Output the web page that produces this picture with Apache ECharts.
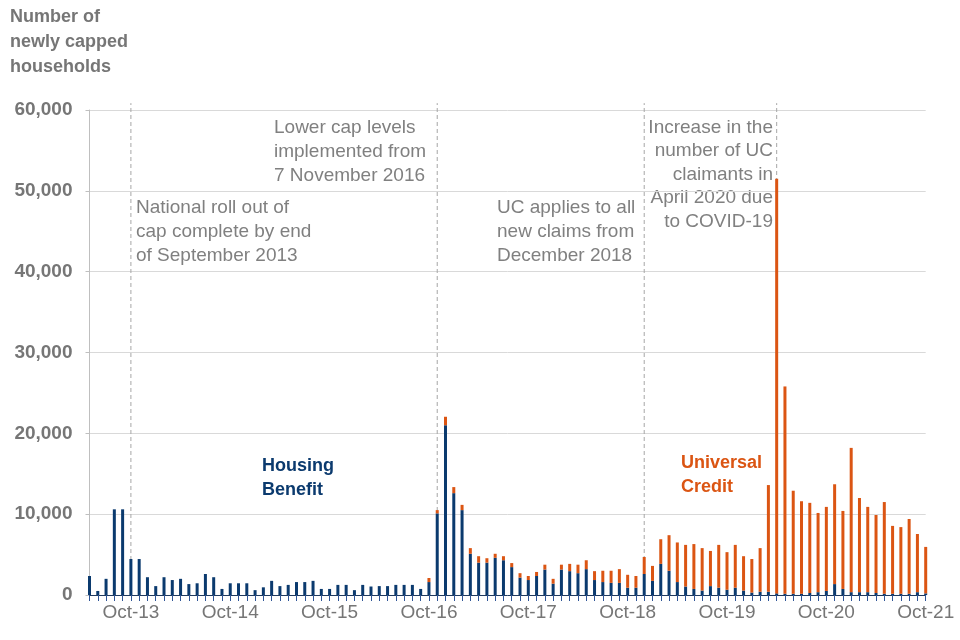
<!DOCTYPE html>
<html>
<head>
<meta charset="utf-8">
<script src="https://cdn.jsdelivr.net/npm/echarts@6/dist/echarts.min.js"></script>
<style>
html,body{margin:0;padding:0;background:#fff;}
#chart{width:960px;height:640px;}
</style>
</head>
<body>
<div id="chart"></div>
<script>
// Months May-13 .. Oct-21
const monthNames = ['Jan','Feb','Mar','Apr','May','Jun','Jul','Aug','Sep','Oct','Nov','Dec'];
const categories = [];
for (let y = 2013, m = 4; categories.length < 102; ) {
  categories.push(monthNames[m] + '-' + String(y).slice(2));
  m++; if (m === 12) { m = 0; y++; }
}

const housingBenefit = [
  2350, 500, 2000, 10600, 10600, 4450, 4450, 2200, 1100, 2200,
  1850, 2000, 1350, 1450, 2600, 2200, 750, 1450, 1450, 1450,
  600, 950, 1750, 1100, 1250, 1600, 1600, 1750, 750, 750,
  1250, 1250, 600, 1250, 1050, 1100, 1100, 1250, 1250, 1250,
  750, 1600, 10100, 21000, 12600, 10500, 5100, 4000, 4000, 4600,
  4300, 3450, 2150, 1850, 2350, 3150, 1400, 3150, 2950, 2700,
  3200, 1850, 1600, 1500, 1500, 900, 900, 2600, 1750, 3850,
  3000, 1600, 1050, 750, 550, 1100, 900, 650, 900, 550,
  300, 400, 400, 200, 150, 150, 150, 250, 350, 500,
  1350, 750, 350, 350, 350, 250, 150, 150, 150, 150,
  350, 200
];

const universalCredit = [
  0, 0, 0, 0, 0, 0, 0, 0, 0, 0,
  0, 0, 0, 0, 0, 0, 0, 0, 0, 0,
  0, 0, 0, 0, 0, 0, 0, 0, 0, 0,
  0, 0, 0, 0, 0, 0, 0, 0, 0, 0,
  0, 500, 400, 1050, 750, 650, 700, 800, 550, 500,
  500, 500, 550, 500, 500, 600, 600, 600, 900, 1050,
  1100, 1100, 1400, 1500, 1700, 1600, 1450, 2100, 1850, 3050,
  4400, 4900, 5150, 5550, 5250, 4350, 5300, 4650, 5300, 4250,
  4150, 5400, 13200, 51300, 25650, 12750, 11450, 11150, 9800, 10400,
  12350, 9650, 17850, 11650, 10550, 9650, 11350, 8400, 8250, 9250,
  7200, 5750
];

const yTicks = [0, 10000, 20000, 30000, 40000, 50000, 60000];
const eventMonths = ['Oct-13', 'Nov-16', 'Dec-18', 'Apr-20'];
const eventLineTop = 60850;

const NAVY = '#0B3A6E';
const ORANGE = '#DB5513';
const GREY = '#767676';
const FONT = "'Liberation Sans', Arial, sans-serif";

const eventSeries = eventMonths.map(function (m) {
  const i = categories.indexOf(m);
  return {
    name: 'event ' + m, type: 'line', data: [[i, 0], [i, eventLineTop]],
    symbol: 'none', silent: true, clip: false, z: 1,
    lineStyle: { color: '#A6A6A6', type: [4, 3], width: 1 }
  };
});

const chart = echarts.init(document.getElementById('chart'));
chart.setOption({
  animation: false,
  backgroundColor: '#ffffff',
  textStyle: { fontFamily: FONT },
  grid: { left: 89.5, right: 34.3, top: 110, bottom: 45 },
  xAxis: {
    type: 'category',
    data: categories,
    boundaryGap: false,
    axisLine: { lineStyle: { color: '#1F3A5F', width: 1 } },
    axisTick: { show: true, interval: 0, length: 6, lineStyle: { color: '#2F5597' } },
    axisLabel: {
      interval: function (i) { return (i - 5) % 12 === 0; },
      color: GREY, fontSize: 19, margin: 8, fontFamily: FONT
    },
    splitLine: { show: false }
  },
  yAxis: {
    type: 'value',
    min: yTicks[0], max: yTicks[yTicks.length - 1], interval: 10000,
    axisLine: { show: true, lineStyle: { color: '#BFBFBF' } },
    axisTick: { show: true, length: 4, lineStyle: { color: '#BFBFBF' } },
    axisLabel: {
      color: GREY, fontSize: 19, fontWeight: 'bold', margin: 17, fontFamily: FONT,
      formatter: function (v) { return v.toLocaleString('en-GB'); }
    },
    splitLine: { lineStyle: { color: '#D9D9D9' } }
  },
  series: [
    {
      name: 'Housing Benefit', type: 'bar', stack: 'total', data: housingBenefit,
      barWidth: 3, clip: false, z: 2, itemStyle: { color: NAVY }
    },
    {
      name: 'Universal Credit', type: 'bar', stack: 'total', data: universalCredit,
      barWidth: 3, clip: false, z: 2, itemStyle: { color: ORANGE }
    }
  ].concat(eventSeries),
  graphic: [
    { type: 'text', left: 10, top: 5, style: { text: 'Number of\nnewly capped\nhouseholds', fill: GREY, font: 'bold 18px ' + FONT, lineHeight: 25 } },
    { type: 'text', x: 136, y: 196, style: { text: 'National roll out of\ncap complete by end\nof September 2013', fill: '#808080', font: '19px ' + FONT, lineHeight: 24, textAlign: 'left', textVerticalAlign: 'top' } },
    { type: 'text', x: 274, y: 116, style: { text: 'Lower cap levels\nimplemented from\n7 November 2016', fill: '#808080', font: '19px ' + FONT, lineHeight: 24, textAlign: 'left', textVerticalAlign: 'top' } },
    { type: 'text', x: 497, y: 196, style: { text: 'UC applies to all\nnew claims from\nDecember 2018', fill: '#808080', font: '19px ' + FONT, lineHeight: 24, textAlign: 'left', textVerticalAlign: 'top' } },
    { type: 'text', x: 773, y: 116, style: { text: 'Increase in the\nnumber of UC\nclaimants in\nApril 2020 due\nto COVID-19', fill: '#808080', font: '19px ' + FONT, lineHeight: 23.5, textAlign: 'right', textVerticalAlign: 'top' } },
    { type: 'text', x: 262, y: 454, style: { text: 'Housing\nBenefit', fill: NAVY, font: 'bold 18px ' + FONT, lineHeight: 24, textAlign: 'left', textVerticalAlign: 'top' } },
    { type: 'text', x: 681, y: 451, style: { text: 'Universal\nCredit', fill: ORANGE, font: 'bold 18px ' + FONT, lineHeight: 24, textAlign: 'left', textVerticalAlign: 'top' } }
  ]
});
</script>
</body>
</html>
